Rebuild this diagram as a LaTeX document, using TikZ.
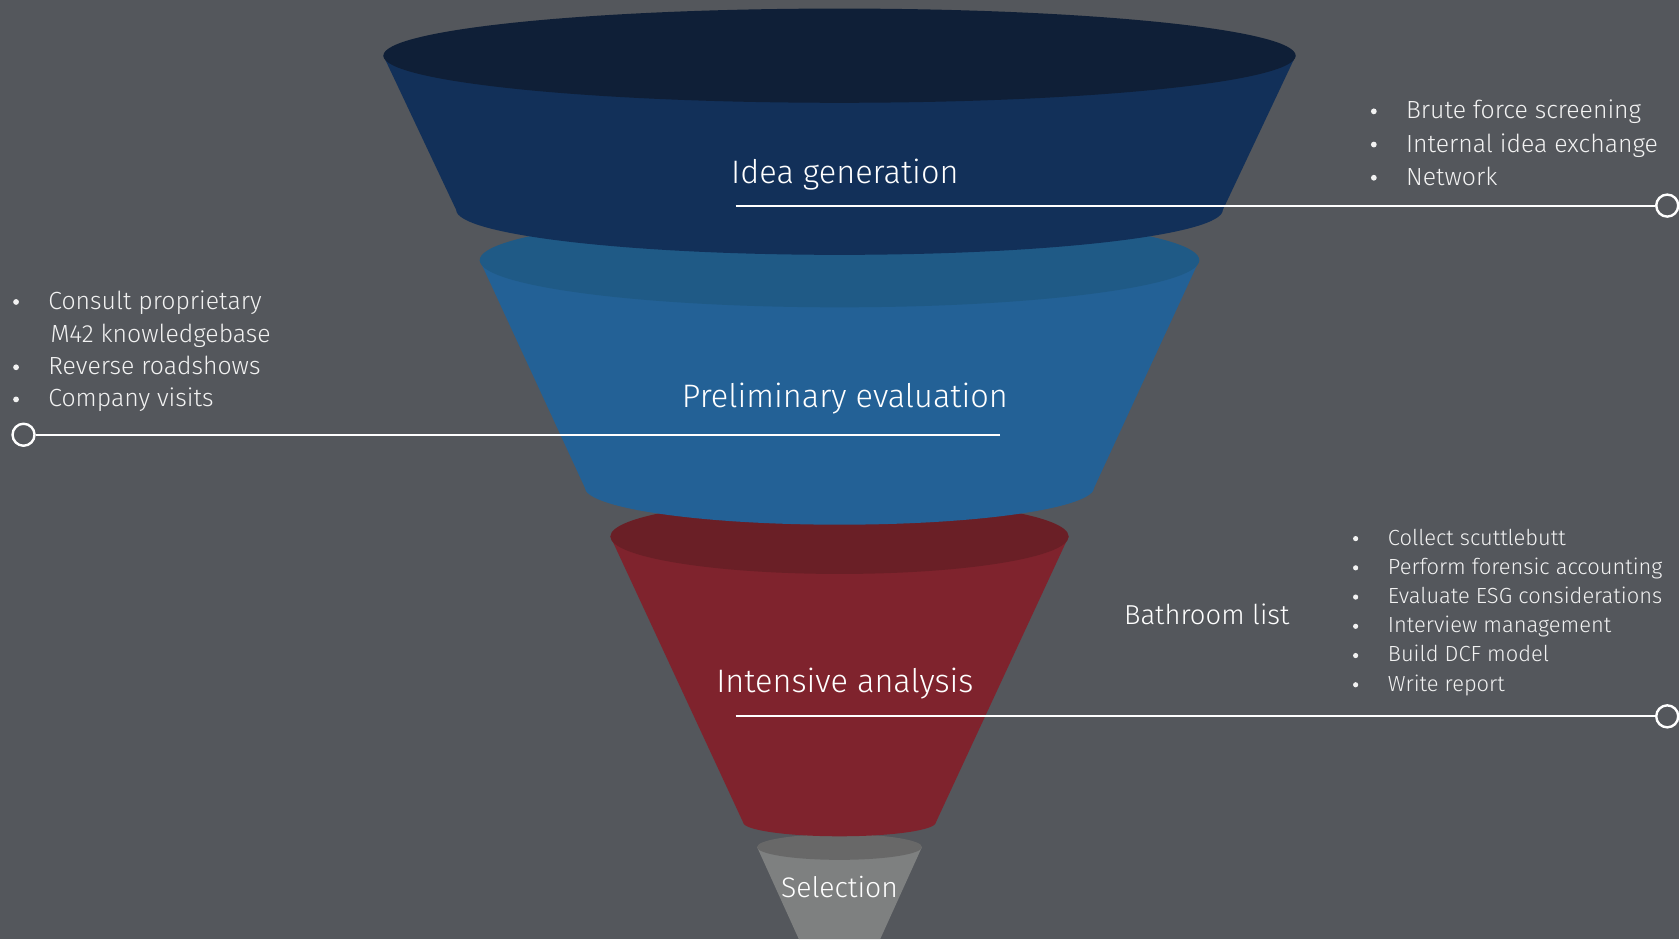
\documentclass[tikz,border=0pt]{standalone}
\usepackage{fontspec}
\setmainfont{Fira Sans Light}
\definecolor{bgc}{HTML}{54575C}
\definecolor{navytop}{HTML}{0F1F37}
\definecolor{navybody}{HTML}{123059}
\definecolor{bluetop}{HTML}{1F5A86}
\definecolor{bluebody}{HTML}{236196}
\definecolor{redtop}{HTML}{6A1F26}
\definecolor{redbody}{HTML}{7F232D}
\definecolor{graytop}{HTML}{686868}
\definecolor{graybody}{HTML}{7E8080}
\definecolor{txt}{HTML}{F2F2F2}
\begin{document}
\begin{tikzpicture}[x=1.0708pt,y=-1.0708pt,
  title/.style={text=white,font=\fontsize{32.5}{36}\selectfont,inner sep=0pt,anchor=base},
  side/.style={text=white,font=\fontsize{27.4}{30}\selectfont,inner sep=0pt,anchor=base},
  bul/.style={text=txt,font=\fontsize{24.8}{28}\selectfont,inner sep=0pt,anchor=base west},
  bulsm/.style={text=txt,font=\fontsize{21.9}{25}\selectfont,inner sep=0pt,anchor=base west},
  dotb/.style={circle,fill=txt,inner sep=0pt,minimum size=5.8pt},
  dotbs/.style={circle,fill=txt,inner sep=0pt,minimum size=5.2pt},
  conn/.style={draw=white,line width=2pt},
  enddot/.style={circle,draw=white,fill=bgc,line width=2.4pt,minimum size=22pt,inner sep=0pt}]
\useasboundingbox (0,0) rectangle (1568,877);
\fill[bgc] (0,0) rectangle (1568,877);
% gray segment
\fill[graybody] (707,791) -- (746,877) -- (822,877) -- (861,791) -- cycle;
\fill[graytop] (784,791) ellipse[x radius=77,y radius=12];
% red segment
\fill[redbody] (570,501) -- (694,768) arc[start angle=180,end angle=0,x radius=90,y radius=13] -- (998,501) -- cycle;
\fill[redtop] (784,501) ellipse[x radius=214,y radius=35];
% blue segment
\fill[bluebody] (448,243) -- (546,455) arc[start angle=180,end angle=0,x radius=238,y radius=35] -- (1120,243) -- cycle;
\fill[bluetop] (784,243) ellipse[x radius=336,y radius=44];
% navy segment
\fill[navybody] (358,52) -- (426,196) arc[start angle=180,end angle=0,x radius=358,y radius=42] -- (1210,52) -- cycle;
\fill[navytop] (784,52) ellipse[x radius=426,y radius=44];
% titles
\node[title] (ig) at (789,171) {Idea generation};
\node[title] (pe) at (789,381) {Preliminary evaluation};
\node[title] (ia) at (789,647) {Intensive analysis};
\node[title,font=\fontsize{28.3}{31}\selectfont] (sel) at (784,838) {Selection};
\node[side] (bath) at (1127,583) {Bathroom list};
% connectors
\coordinate (igL) at (687,192);
\node[enddot] (igC) at (1557,192) {};
\draw[conn] (igL) -- (igC);
\coordinate (peR) at (934,406);
\node[enddot] (peC) at (22,406) {};
\draw[conn] (peR) -- (peC);
\coordinate (iaL) at (687,669);
\node[enddot] (iaC) at (1557,669) {};
\draw[conn] (iaL) -- (iaC);
% right top list
\foreach \t [count=\i] in {Brute force screening, Internal idea exchange, Network} {
  \node[bul] (rt\i) at (1313,{111+31*(\i-1)}) {\t};
  \node[dotb] (rtb\i) at (1283,{104+31*(\i-1)}) {};
}
% left list
\node[bul] (l1) at (45,289) {Consult proprietary};
\node[bul] (l1b) at (47,320) {M42 knowledgebase};
\node[bul] (l2) at (45,350) {Reverse roadshows};
\node[bul] (l3) at (45,380) {Company visits};
\foreach \y [count=\i] in {282,343,373} {
  \node[dotb] (lb\i) at (15,\y) {};
}
% right bottom list
\foreach \t [count=\i] in {Collect scuttlebutt, Perform forensic accounting, Evaluate ESG considerations, Interview management, Build DCF model, Write report} {
  \node[bulsm] (rb\i) at (1296,{509+27.3*(\i-1)}) {\t};
  \node[dotbs] (rbb\i) at (1266,{503+27.3*(\i-1)}) {};
}
\end{tikzpicture}
\end{document}
